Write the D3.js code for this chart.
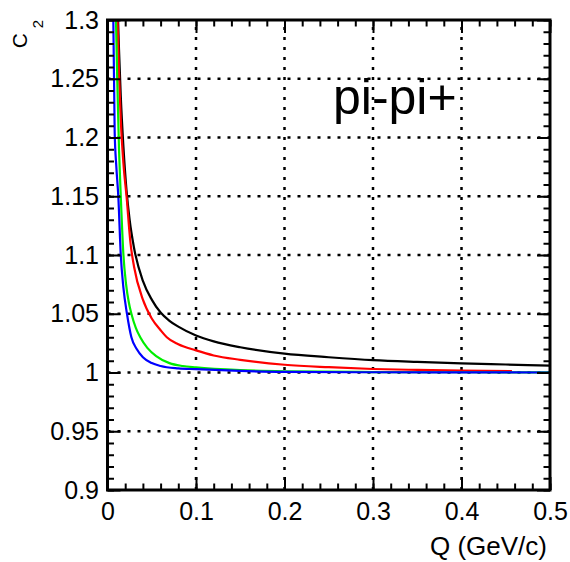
<!DOCTYPE html>
<html>
<head>
<meta charset="utf-8">
<script src="https://cdn.jsdelivr.net/npm/d3@7"></script>
<style>
  body { margin: 0; background: #fff; }
  text { font-family: "Liberation Sans", Arial, Helvetica, sans-serif; }
</style>
</head>
<body>
<svg id="chart" width="570" height="562"></svg>
<script>
// values
const qBlack = [0.0115, 0.013, 0.015, 0.018, 0.0215, 0.025, 0.03, 0.04, 0.05, 0.06, 0.07, 0.08, 0.1, 0.12, 0.15, 0.2, 0.25, 0.3, 0.35, 0.4, 0.45, 0.5];
const c2Black = [1.31, 1.275, 1.235, 1.192, 1.155, 1.13, 1.106, 1.078, 1.062, 1.051, 1.044, 1.039, 1.0315, 1.0265, 1.0215, 1.016, 1.013, 1.0105, 1.009, 1.0078, 1.0068, 1.0058];

const qRed = [0.011, 0.013, 0.015, 0.018, 0.0215, 0.026, 0.03, 0.04, 0.05, 0.06, 0.067, 0.08, 0.1, 0.12, 0.15, 0.2, 0.25, 0.3, 0.35, 0.4, 0.457];
const c2Red = [1.31, 1.255, 1.215, 1.178, 1.15, 1.11, 1.09, 1.062, 1.046, 1.036, 1.03, 1.024, 1.0188, 1.0145, 1.0108, 1.0066, 1.0045, 1.003, 1.0022, 1.0016, 1.0012];

const qGreen = [0.0093, 0.011, 0.013, 0.015, 0.018, 0.021, 0.024, 0.027, 0.032, 0.037, 0.045, 0.055, 0.07, 0.085, 0.1, 0.15, 0.2, 0.3, 0.4, 0.5];
const c2Green = [1.31, 1.25, 1.19, 1.15, 1.1, 1.075, 1.06, 1.05, 1.038, 1.03, 1.021, 1.014, 1.008, 1.0055, 1.0043, 1.002, 1.001, 1.0004, 1.0002, 1.0001];

const qBlue = [0.0064, 0.0081, 0.01, 0.0122, 0.015, 0.018, 0.022, 0.027, 0.033, 0.04, 0.05, 0.06, 0.08, 0.1, 0.15, 0.2, 0.3, 0.4, 0.5];
const c2Blue = [1.31, 1.205, 1.175, 1.15, 1.1, 1.072, 1.05, 1.03, 1.02, 1.013, 1.008, 1.0055, 1.0035, 1.0028, 1.0013, 1.0005, 1.0002, 1.0001, 1.0];

const series = [
  { name: "black", color: "#000000", q: qBlack, c2: c2Black },
  { name: "red", color: "#ff0000", q: qRed, c2: c2Red },
  { name: "green", color: "#00ee00", q: qGreen, c2: c2Green },
  { name: "blue", color: "#0000ff", q: qBlue, c2: c2Blue },
];

const xTicks = [0, 0.1, 0.2, 0.3, 0.4, 0.5];
const yTicks = [0.9, 0.95, 1, 1.05, 1.1, 1.15, 1.2, 1.25, 1.3];

const margin = { top: 20, right: 20, bottom: 72, left: 107.5 };
const width = 570, height = 562;

const svg = d3.select("#chart");

const x = d3.scaleLinear().domain([0, 0.5]).range([margin.left, width - margin.right]);
const y = d3.scaleLinear().domain([0.9, 1.3]).range([height - margin.bottom, margin.top]);

// dotted grid
const grid = svg.append("g")
  .attr("stroke", "#000")
  .attr("stroke-width", 2.5)
  .attr("stroke-dasharray", "3,7");

grid.selectAll(".vgrid")
  .data(xTicks.slice(1, -1))
  .join("line")
  .attr("x1", (d) => x(d))
  .attr("x2", (d) => x(d))
  .attr("y1", y.range()[0])
  .attr("y2", y.range()[1]);

grid.selectAll(".hgrid")
  .data(yTicks.slice(1, -1))
  .join("line")
  .attr("x1", x.range()[0])
  .attr("x2", x.range()[1])
  .attr("y1", (d) => y(d))
  .attr("y2", (d) => y(d));

// curves
svg.append("clipPath")
  .attr("id", "plotclip")
  .append("rect")
  .attr("x", x.range()[0])
  .attr("y", y.range()[1])
  .attr("width", x.range()[1] - x.range()[0])
  .attr("height", y.range()[0] - y.range()[1]);

const line = d3.line()
  .x((d) => x(d[0]))
  .y((d) => y(d[1]))
  .curve(d3.curveMonotoneX);

svg.append("g")
  .attr("clip-path", "url(#plotclip)")
  .selectAll("path")
  .data(series)
  .join("path")
  .attr("d", (s) => line(s.q.map((q, i) => [q, s.c2[i]])))
  .attr("fill", "none")
  .attr("stroke", (s) => s.color)
  .attr("stroke-width", 2.2);

// axes, ticks pointing inward
const fontSize = "25px";

const yAxis = svg.append("g")
  .attr("transform", `translate(${x.range()[0]},0)`)
  .call(d3.axisLeft(y).tickValues(yTicks).tickSizeInner(-13).tickSizeOuter(0).tickPadding(8.5)
    .tickFormat((d) => d3.format("")(+d.toFixed(2))));
yAxis.selectAll("text").style("font-size", fontSize).attr("fill", "#000");

svg.append("g")
  .attr("transform", `translate(${x.range()[0]},0)`)
  .call(d3.axisLeft(y).ticks(40).tickSizeInner(-6.5).tickSizeOuter(0).tickFormat(""));

svg.append("g")
  .attr("transform", `translate(${x.range()[1]},0)`)
  .call(d3.axisRight(y).tickValues(yTicks).tickSizeInner(-13).tickSizeOuter(0).tickFormat(""));
svg.append("g")
  .attr("transform", `translate(${x.range()[1]},0)`)
  .call(d3.axisRight(y).ticks(40).tickSizeInner(-6.5).tickSizeOuter(0).tickFormat(""));

const xAxis = svg.append("g")
  .attr("transform", `translate(0,${y.range()[0]})`)
  .call(d3.axisBottom(x).tickValues(xTicks).tickSizeInner(-13).tickSizeOuter(0).tickPadding(12)
    .tickFormat((d) => d3.format("")(+d.toFixed(1))));
xAxis.selectAll("text").style("font-size", fontSize).attr("fill", "#000");

svg.append("g")
  .attr("transform", `translate(0,${y.range()[0]})`)
  .call(d3.axisBottom(x).ticks(25).tickSizeInner(-6.5).tickSizeOuter(0).tickFormat(""));

svg.append("g")
  .attr("transform", `translate(0,${y.range()[1]})`)
  .call(d3.axisTop(x).tickValues(xTicks).tickSizeInner(-13).tickSizeOuter(0).tickFormat(""));
svg.append("g")
  .attr("transform", `translate(0,${y.range()[1]})`)
  .call(d3.axisTop(x).ticks(25).tickSizeInner(-6.5).tickSizeOuter(0).tickFormat(""));

svg.selectAll(".domain").remove();
svg.selectAll(".tick line").attr("stroke", "#000").attr("stroke-width", 2);

// frame
svg.append("rect")
  .attr("x", x.range()[0])
  .attr("y", y.range()[1])
  .attr("width", x.range()[1] - x.range()[0])
  .attr("height", y.range()[0] - y.range()[1])
  .attr("fill", "none")
  .attr("stroke", "#000")
  .attr("stroke-width", 3);

// axis titles
svg.append("text")
  .attr("text-anchor", "end")
  .attr("x", 547)
  .attr("y", 555)
  .style("font-size", "26px")
  .text("Q (GeV/c)");

svg.append("text")
  .attr("transform", "translate(27,33) rotate(-90)")
  .attr("text-anchor", "end")
  .style("font-size", "21px")
  .text("C");
svg.append("text")
  .attr("transform", "translate(43,20) rotate(-90)")
  .attr("text-anchor", "end")
  .style("font-size", "15px")
  .text("2");

// in-plot label
svg.append("text")
  .attr("x", 333)
  .attr("y", 114)
  .style("font-size", "50px")
  .text("pi-pi+");
</script>
</body>
</html>
